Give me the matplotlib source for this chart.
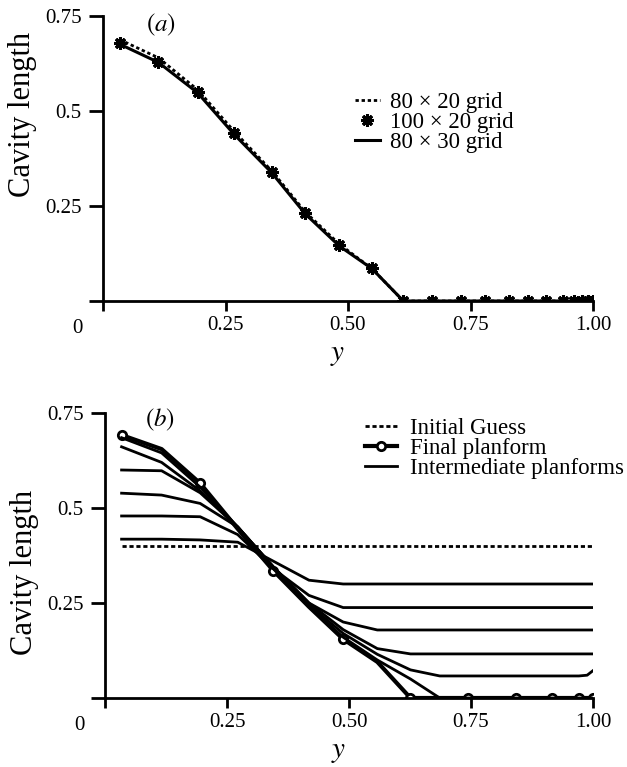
import matplotlib
matplotlib.use("Agg")
import matplotlib.pyplot as plt

plt.rcParams["font.family"] = ["Liberation Serif", "DejaVu Serif"]
plt.rcParams["mathtext.fontset"] = "stix"

# Panel (a): grid convergence, spanwise stations
y_a = [0.034, 0.113, 0.193, 0.268, 0.344, 0.413, 0.482, 0.549, 0.613, 0.672,
       0.730, 0.780, 0.828, 0.867, 0.905, 0.939, 0.961, 0.977, 0.990, 1.000]
len_80x20 = [0.688, 0.640, 0.556, 0.446, 0.343, 0.234, 0.150, 0.085, 0.0, 0.0,
             0.0, 0.0, 0.0, 0.0, 0.0, 0.0, 0.0, 0.0, 0.0, 0.0]
len_100x20 = [0.678, 0.630, 0.551, 0.441, 0.340, 0.231, 0.147, 0.087, 0.0, 0.0,
              0.0, 0.0, 0.0, 0.0, 0.0, 0.0, 0.0, 0.0, 0.0, 0.0]
len_80x30 = [0.676, 0.628, 0.548, 0.438, 0.338, 0.229, 0.145, 0.085, 0.0, 0.0,
             0.0, 0.0, 0.0, 0.0, 0.0, 0.0, 0.0, 0.0, 0.0, 0.0]

# Panel (b): iteration history
y_b = [0.034, 0.116, 0.195, 0.272, 0.345, 0.418, 0.488, 0.558, 0.626, 0.686,
       0.744, 0.795, 0.842, 0.882, 0.915, 0.945, 0.971, 0.988, 1.000]
initial = [0.40] * 19
inter = [
    [0.418, 0.418, 0.416, 0.410, 0.360, 0.310, 0.300, 0.300, 0.300, 0.300,
     0.300, 0.300, 0.300, 0.300, 0.300, 0.300, 0.300, 0.300, 0.300],
    [0.479, 0.479, 0.477, 0.430, 0.340, 0.270, 0.238, 0.238, 0.238, 0.238,
     0.238, 0.238, 0.238, 0.238, 0.238, 0.238, 0.238, 0.238, 0.238],
    [0.539, 0.534, 0.512, 0.450, 0.345, 0.250, 0.200, 0.179, 0.179, 0.179,
     0.179, 0.179, 0.179, 0.179, 0.179, 0.179, 0.179, 0.179, 0.179],
    [0.600, 0.598, 0.540, 0.450, 0.345, 0.250, 0.180, 0.130, 0.116, 0.116,
     0.116, 0.116, 0.116, 0.116, 0.116, 0.116, 0.116, 0.116, 0.116],
    [0.661, 0.620, 0.545, 0.450, 0.345, 0.245, 0.170, 0.115, 0.074, 0.058,
     0.058, 0.058, 0.058, 0.058, 0.058, 0.058, 0.058, 0.060, 0.072],
    [0.685, 0.645, 0.555, 0.450, 0.340, 0.240, 0.160, 0.100, 0.050, 0.0,
     0.0, 0.0, 0.0, 0.0, 0.0, 0.0, 0.0, 0.0, 0.0],
]
final = [0.692, 0.655, 0.565, 0.445, 0.335, 0.240, 0.155, 0.095, 0.0, 0.0,
         0.0, 0.0, 0.0, 0.0, 0.0, 0.0, 0.0, 0.0, 0.0]

fig = plt.figure(figsize=(6.27, 7.67), dpi=100)
ax_a = fig.add_axes([103 / 627, 1 - 301 / 767, 490 / 627, 285 / 767])
ax_b = fig.add_axes([105 / 627, 1 - 698 / 767, 488 / 627, 285 / 767])


def style(ax):
    ax.set_xlim(0, 1.0)
    ax.set_ylim(0, 0.75)
    for s in ["top", "right"]:
        ax.spines[s].set_visible(False)
    for s in ["left", "bottom"]:
        ax.spines[s].set_linewidth(2)
    ax.set_xticks([0, 0.25, 0.5, 0.75, 1.0])
    ax.set_xticklabels(["", "0.25", "0.50", "0.75", "1.00"])
    ax.set_yticks([0, 0.25, 0.5, 0.75])
    ax.set_yticklabels(["", "0.25", "0.5", "0.75"])
    ax.tick_params(axis="x", direction="out", length=7, width=2, pad=4, labelsize=15)
    ax.tick_params(axis="y", direction="out", length=10, width=2, pad=5.5, labelsize=15)
    ax.text(-0.053, -0.095, "0", transform=ax.transAxes, ha="center", va="center", fontsize=15)
    ax.text(0.478, -0.19, "$y$", transform=ax.transAxes, ha="center", va="center", fontsize=21)


style(ax_a)
style(ax_b)

# (a)
ax_a.plot(y_a, len_80x20, color="black", lw=2, linestyle=(0, (1.2, 1.0)), label="80 × 20 grid")
ax_a.plot(y_a, len_100x20, color="black", lw=0, marker=(8, 2, 0), ms=9, mew=2.2,
          label="100 × 20 grid")
ax_a.plot(y_a, len_80x30, color="black", lw=2.2, label="80 × 30 grid")
ax_a.text(-0.165, 0.656, "Cavity length", transform=ax_a.transAxes, rotation=90,
          ha="center", va="center", fontsize=22)
ax_a.text(0.118, 0.968, "$(a)$", transform=ax_a.transAxes, ha="center", va="center", fontsize=18)
ax_a.legend(loc="upper left", bbox_to_anchor=(0.514, 0.733), frameon=False, fontsize=16.5,
            handlelength=1.1, handletextpad=0.45, labelspacing=-0.05, borderpad=0,
            borderaxespad=0)

# (b)
ax_b.plot(y_b, initial, color="black", lw=2, linestyle=(0, (1.5, 1.0)), label="Initial Guess")
ax_b.plot(y_b, final, color="black", lw=3, marker="o", markevery=2, ms=6, mfc="white",
          mew=2, label="Final planform")
for i, curve in enumerate(inter):
    ax_b.plot(y_b, curve, color="black", lw=2,
              label="Intermediate planforms" if i == 0 else None)
ax_b.text(-0.165, 0.44, "Cavity length", transform=ax_b.transAxes, rotation=90,
          ha="center", va="center", fontsize=22)
ax_b.text(0.113, 0.975, "$(b)$", transform=ax_b.transAxes, ha="center", va="center", fontsize=18)
ax_b.legend(loc="upper left", bbox_to_anchor=(0.533, 0.982), frameon=False, fontsize=16.5,
            handlelength=1.4, handletextpad=0.55, labelspacing=-0.05, borderpad=0,
            borderaxespad=0)

fig.savefig("out.png", dpi=100)
